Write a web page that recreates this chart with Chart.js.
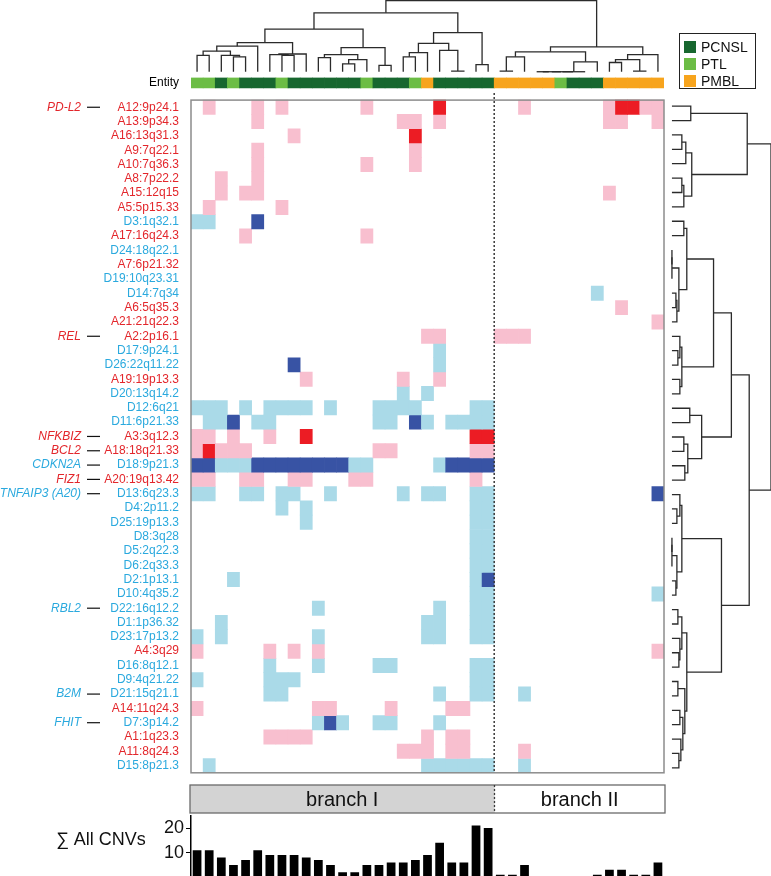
<!DOCTYPE html>
<html>
<meta charset="utf-8">
<style>
	html, body { margin: 0; padding: 0; width: 100%; height: 100%; overflow: hidden; background: #fff; }
	.pane { position: absolute; }
	#legend {
		position: absolute; left: 679px; top: 33px; width: 75px; height: 54px;
		border: 1.5px solid #222; font: 14px 'Liberation Sans', Arial, sans-serif; color: #111;
	}
	#legend div { position: absolute; left: 4px; height: 14px; line-height: 14px; }
	#legend span { display: inline-block; width: 12px; height: 12px; margin-right: 5px; vertical-align: -1px; }
</style>
<script src="https://cdn.jsdelivr.net/npm/chart.js"></script>
<body>
	<div class="pane" style="left:191px;top:0;width:473px;height:76px"><canvas id="topTree"></canvas></div>
	<div class="pane" style="left:0;top:66px;width:680px;height:718px"><canvas id="heat"></canvas></div>
	<div class="pane" style="left:666px;top:99px;width:105px;height:676px"><canvas id="rightTree"></canvas></div>
	<div class="pane" style="left:189px;top:784px;width:477px;height:30px"><canvas id="branch"></canvas></div>
	<div class="pane" style="left:0;top:803px;width:680px;height:87px"><canvas id="totals"></canvas></div>
	<div id="legend">
		<div style="top:6px"><span style="background:#17672f"></span>PCNSL</div>
		<div style="top:23px"><span style="background:#6cbd45"></span>PTL</div>
		<div style="top:40px"><span style="background:#f7a41d"></span>PMBL</div>
	</div>
<script>

	// CNV regions (rows of the heatmap, top to bottom)
	var cnvLabels = ['A12:9p24.1','A13:9p34.3','A16:13q31.3','A9:7q22.1','A10:7q36.3','A8:7p22.2','A15:12q15',
		'A5:5p15.33','D3:1q32.1','A17:16q24.3','D24:18q22.1','A7:6p21.32','D19:10q23.31','D14:7q34','A6:5q35.3',
		'A21:21q22.3','A2:2p16.1','D17:9p24.1','D26:22q11.22','A19:19p13.3','D20:13q14.2','D12:6q21','D11:6p21.33',
		'A3:3q12.3','A18:18q21.33','D18:9p21.3','A20:19q13.42','D13:6q23.3','D4:2p11.2','D25:19p13.3','D8:3q28',
		'D5:2q22.3','D6:2q33.3','D2:1p13.1','D10:4q35.2','D22:16q12.2','D1:1p36.32','D23:17p13.2','A4:3q29',
		'D16:8q12.1','D9:4q21.22','D21:15q21.1','A14:11q24.3','D7:3p14.2','A1:1q23.3','A11:8q24.3','D15:8p21.3'];

	// genes named next to some rows
	var geneNames = ['PD-L2','REL','NFKBIZ','BCL2','CDKN2A','FIZ1','TNFAIP3 (A20)','RBL2','B2M','FHIT'];
	var geneRows = [0, 16, 23, 24, 25, 26, 27, 35, 41, 43];

	// entity of each sample column: T = PTL, C = PCNSL, M = PMBL
	var entity = 'TTCTC CCTCC CCCCT CCCTM CCCCC MMMMM TCCCM MMMM';

	// one string per row, one char per sample: + gain, # amplification, - loss, = homozygous deletion
	var cnvMatrix = [
		'.+... +.+.. ....+ ..... #.... ..+.. ....+ ##++',
		'..... +.... ..... ..++. +.... ..... ....+ +..+',
		'..... ...+. ..... ...#. ..... ..... ..... ....',
		'..... +.... ..... ...+. ..... ..... ..... ....',
		'..... +.... ....+ ...+. ..... ..... ..... ....',
		'..+.. +.... ..... ..... ..... ..... ..... ....',
		'..+.+ +.... ..... ..... ..... ..... ....+ ....',
		'.+... ..+.. ..... ..... ..... ..... ..... ....',
		'--... =.... ..... ..... ..... ..... ..... ....',
		'....+ ..... ....+ ..... ..... ..... ..... ....',
		'..... ..... ..... ..... ..... ..... ..... ....',
		'..... ..... ..... ..... ..... ..... ..... ....',
		'..... ..... ..... ..... ..... ..... ..... ....',
		'..... ..... ..... ..... ..... ..... ...-. ....',
		'..... ..... ..... ..... ..... ..... ..... +...',
		'..... ..... ..... ..... ..... ..... ..... ...+',
		'..... ..... ..... ....+ +.... +++.. ..... ....',
		'..... ..... ..... ..... -.... ..... ..... ....',
		'..... ...=. ..... ..... -.... ..... ..... ....',
		'..... ....+ ..... ..+.. +.... ..... ..... ....',
		'..... ..... ..... ..-.- ..... ..... ..... ....',
		'---.- .---- .-... ----. ...-- ..... ..... ....',
		'.--=. --... ..... --.=- .---- ..... ..... ....',
		'++.+. .+..# ..... ..... ...## ..... ..... ....',
		'+#+++ ..... ..... ++... ...++ ..... ..... ....',
		'==--- ===== ===-- ..... -==== ..... ..... ....',
		'++..+ +..++ ...++ ..... ...+. ..... ..... ....',
		'--..- -.--. .-... ..-.- -..-- ..... ..... ...=',
		'..... ..-.- ..... ..... ...-- ..... ..... ....',
		'..... ....- ..... ..... ...-- ..... ..... ....',
		'..... ..... ..... ..... ...-- ..... ..... ....',
		'..... ..... ..... ..... ...-- ..... ..... ....',
		'..... ..... ..... ..... ...-- ..... ..... ....',
		'...-. ..... ..... ..... ...-= ..... ..... ....',
		'..... ..... ..... ..... ...-- ..... ..... ...-',
		'..... ..... -.... ..... -..-- ..... ..... ....',
		'..-.. ..... ..... ....- -..-- ..... ..... ....',
		'-.-.. ..... -.... ....- -..-- ..... ..... ....',
		'+.... .+.+. +.... ..... ..... ..... ..... ...+',
		'..... .-... -.... --... ...-- ..... ..... ....',
		'-.... .---. ..... ..... ...-- ..... ..... ....',
		'..... .--.. ..... ..... -..-- ..-.. ..... ....',
		'+.... ..... ++... .+... .++.. ..... ..... ....',
		'..... ..... -=-.. --... -.... ..... ..... ....',
		'..... .++++ ..... ....+ .++.. ..... ..... ....',
		'..... ..... ..... ..+++ .++.. ..+.. ..... ....',
		'.-... ..... ..... ....- ----- ..-.. ..... ....'
	];

	// sum of all CNVs per sample (bottom bars)
	var cnvTotals = [11,11,8,5,7,11,9,9,9,8,7,5,2,2,5,5,6,6,7,9,14,6,6,21,20,1,1,5,0,0,0,0,0,1,3,3,1,1,6];

	// sample clustering: [left, right, height], leaves are column indices
	var sampleTree = [
		[
			[
				[[[[0,1,0.23],[2,[3,4,0.21],0.23],0.29],5,0.36],[[6,[7,8,0.23],0.24],9,0.25],0.41],
				[[[10,11,0.2],[[12,13,0.11],14,0.17],0.24],[15,16,0.09],0.34],
				0.6
			],
			[[[[17,18,0.21],19,0.27],[20,[21,22,0.01],0.3],0.4],[23,24,0.1],0.55],
			0.83
		],
		[
			[[[25,26,0.01],27,0.21],[[[[[28,29,0],30,0],31,0],32,0],33,0.14],0.28],
			[[[34,35,0.13],[36,37,0.01],0.17],38,0.24],
			0.35
		],
		1.0
	];

	// region clustering: [top, bottom, height], leaves are row indices
	var regionTree = [
		[[0,1,0.19],[[[2,3,0.1],4,0.14],[[5,6,0.1],7,0.12],0.2],0.76],
		[
			[
				[[[8,9,0.12],[[[10,11,0],12,0],[[13,14,0.04],15,0.05],0.07],0.15],[[16,[17,18,0.06],0.08],[19,20,0.08],0.1],0.42],
				[[21,22,0.18],[[23,24,0.12],[25,26,0.13],0.16],0.3],
				0.6
			],
			[
				[[27,[28,29,0.05],0.08],[[[30,31,0],32,0],[33,34,0.04],0.05],0.1],
				[[[35,36,0.06],[37,[38,39,0.07],0.08],0.1],[[40,41,0.06],[[42,43,0.08],[44,[45,46,0.07],0.09],0.11],0.13],0.15],
				0.5
			],
			0.78
		],
		1.0
	];

	var FONT = "'Liberation Sans', Arial, sans-serif";
	var RED = '#e3262b', BLUE = '#2aa9de';
	var cellColor = { '+': '#f8bfcf', '#': '#ec1c24', '-': '#aadae8', '=': '#3853a4' };
	var entityColor = { C: '#17672f', T: '#6cbd45', M: '#f7a41d' };
	var LINE = '#2b2b2b';

	Chart.defaults.font.family = FONT;
	Chart.defaults.animation = false;
	Chart.defaults.plugins.legend.display = false;
	Chart.defaults.plugins.tooltip.enabled = false;

	var entityCodes = entity.replace(/ /g, '').split('');
	var columns = entityCodes.map(function (_, i) { return 'S' + (i + 1); });

	// turn a nested tree into U-shaped polylines
	function walk(node, out) {
		if (typeof node === 'number') return { p: node + 0.5, h: 0 };
		var a = walk(node[0], out), b = walk(node[1], out), h = node[2];
		out.push([[a.p, a.h], [a.p, h], [b.p, h], [b.p, b.h]]);
		return { p: (a.p + b.p) / 2, h: h };
	}

	function treeDatasets(tree, horizontal) {
		var segs = [];
		walk(tree, segs);
		return segs.map(function (s) {
			return {
				data: s.map(function (pt) { return horizontal ? { x: pt[1], y: pt[0] } : { x: pt[0], y: pt[1] }; }),
				showLine: true, pointRadius: 0, borderColor: LINE, borderWidth: 1.3, clip: false
			};
		});
	}

	// top dendrogram
	new Chart(document.getElementById('topTree'), {
		type: 'scatter',
		data: { datasets: treeDatasets(sampleTree, false) },
		options: {
			responsive: true, maintainAspectRatio: false,
			scales: {
				x: { type: 'linear', min: 0, max: cnvTotals.length, display: false },
				y: { type: 'linear', min: -0.06, max: 1.01, display: false }
			}
		}
	});

	// right dendrogram
	new Chart(document.getElementById('rightTree'), {
		type: 'scatter',
		data: { datasets: treeDatasets(regionTree, true) },
		options: {
			responsive: true, maintainAspectRatio: false,
			scales: {
				x: { type: 'linear', min: -0.06, max: 1.0, display: false },
				y: { type: 'linear', min: 0, max: cnvLabels.length, reverse: true, display: false }
			}
		}
	});

	// heatmap with entity strip on top
	var heatSets = [{
		data: entityCodes.map(function () { return [-1.55, -0.85]; }),
		backgroundColor: entityCodes.map(function (e) { return entityColor[e]; })
	}];
	cnvMatrix.forEach(function (row, r) {
		var cells = row.replace(/ /g, '').split('');
		heatSets.push({
			data: cells.map(function (ch) { return ch === '.' ? null : [r, r + 1]; }),
			backgroundColor: cells.map(function (ch) { return cellColor[ch] || 'rgba(0,0,0,0)'; })
		});
	});
	heatSets.forEach(function (d) {
		d.barPercentage = 1; d.categoryPercentage = 1; d.grouped = false; d.borderWidth = 0;
	});

	function splitX(xs) {
		return (xs.getPixelForValue(24) + xs.getPixelForValue(25)) / 2;
	}

	new Chart(document.getElementById('heat'), {
		type: 'bar',
		data: { labels: columns, datasets: heatSets },
		options: {
			responsive: true, maintainAspectRatio: false,
			layout: { padding: { top: 10, bottom: 10, left: 0, right: 16 } },
			scales: {
				x: { type: 'category', display: false },
				y: {
					type: 'linear', reverse: true, min: -1.6, max: cnvLabels.length,
					afterBuildTicks: function (s) {
						s.ticks = [{ value: -1.2 }].concat(cnvLabels.map(function (_, i) { return { value: i + 0.5 }; }));
					},
					afterFit: function (s) { s.width = 191; },
					grid: { display: false },
					border: { display: false },
					ticks: {
						autoSkip: false, padding: 4, font: { size: 12 },
						callback: function (v, i) { return i === 0 ? 'Entity' : cnvLabels[i - 1]; },
						color: function (ctx) {
							if (ctx.index === 0) return '#000';
							return cnvLabels[ctx.index - 1].charAt(0) === 'A' ? RED : BLUE;
						}
					}
				}
			}
		},
		plugins: [{
			id: 'frame',
			afterDatasetsDraw: function (chart) {
				var ctx = chart.ctx, xs = chart.scales.x, ys = chart.scales.y, a = chart.chartArea;
				var top = ys.getPixelForValue(0), bottom = ys.getPixelForValue(cnvLabels.length);
				ctx.save();
				ctx.strokeStyle = '#8c8c8c';
				ctx.lineWidth = 1.5;
				ctx.strokeRect(a.left, top, a.right - a.left, bottom - top);
				var sx = splitX(xs);
				ctx.strokeStyle = '#3a3a3a';
				ctx.setLineDash([2, 2]);
				ctx.beginPath();
				ctx.moveTo(sx, ys.getPixelForValue(-0.5));
				ctx.lineTo(sx, bottom);
				ctx.stroke();
				ctx.setLineDash([]);
				// gene names left of their regions
				ctx.font = 'italic 12px ' + FONT;
				ctx.textAlign = 'right';
				ctx.textBaseline = 'middle';
				geneRows.forEach(function (r, i) {
					var y = ys.getPixelForValue(r + 0.5);
					ctx.fillStyle = cnvLabels[r].charAt(0) === 'A' ? RED : BLUE;
					ctx.fillText(geneNames[i], 81, y);
					ctx.strokeStyle = '#111';
					ctx.lineWidth = 1.2;
					ctx.beginPath();
					ctx.moveTo(87, y);
					ctx.lineTo(100, y);
					ctx.stroke();
				});
				ctx.restore();
			}
		}]
	});

	// branch I / branch II strip
	new Chart(document.getElementById('branch'), {
		type: 'bar',
		data: {
			labels: ['branch'],
			datasets: [
				{ data: [[0, 25]], backgroundColor: '#d3d3d3' },
				{ data: [[25, cnvTotals.length]], backgroundColor: '#ffffff' }
			]
		},
		options: {
			indexAxis: 'y',
			responsive: true, maintainAspectRatio: false,
			layout: { padding: 1 },
			datasets: { bar: { barPercentage: 1, categoryPercentage: 1, grouped: false, borderWidth: 0 } },
			scales: {
				x: { type: 'linear', min: 0, max: cnvTotals.length, display: false },
				y: { type: 'category', display: false }
			}
		},
		plugins: [{
			id: 'branchText',
			afterDatasetsDraw: function (chart) {
				var ctx = chart.ctx, xs = chart.scales.x, a = chart.chartArea;
				ctx.save();
				ctx.strokeStyle = '#6a6a6a';
				ctx.lineWidth = 1.3;
				ctx.strokeRect(a.left, a.top, a.right - a.left, a.bottom - a.top);
				ctx.setLineDash([2, 2]);
				ctx.strokeStyle = '#3a3a3a';
				ctx.beginPath();
				ctx.moveTo(xs.getPixelForValue(25), a.top);
				ctx.lineTo(xs.getPixelForValue(25), a.bottom);
				ctx.stroke();
				ctx.fillStyle = '#111';
				ctx.font = '20px ' + FONT;
				ctx.textAlign = 'center';
				ctx.textBaseline = 'middle';
				var mid = (a.top + a.bottom) / 2 + 1;
				ctx.fillText('branch I', xs.getPixelForValue(12.5), mid);
				ctx.fillText('branch II', xs.getPixelForValue(32), mid);
				ctx.restore();
			}
		}]
	});

	// bottom bars: sum of all CNVs
	new Chart(document.getElementById('totals'), {
		type: 'bar',
		data: {
			labels: columns,
			datasets: [{ data: cnvTotals, backgroundColor: '#000', barPercentage: 0.72, categoryPercentage: 1 }]
		},
		options: {
			responsive: true, maintainAspectRatio: false,
			layout: { padding: { top: 10, bottom: 1, left: 0, right: 16 } },
			scales: {
				x: { type: 'category', display: false },
				y: {
					min: 0, max: 25,
					afterBuildTicks: function (s) { s.ticks = [{ value: 0 }, { value: 10 }, { value: 20 }]; },
					afterFit: function (s) { s.width = 191; },
					grid: { drawOnChartArea: false, tickLength: 5, color: '#000' },
					border: { color: '#000', width: 1.5 },
					ticks: {
						color: '#111', font: { size: 18 }, padding: 2,
						callback: function (v) { return v === 0 ? null : String(v); }
					}
				}
			}
		},
		plugins: [{
			id: 'sumTitle',
			afterDraw: function (chart) {
				var ctx = chart.ctx, a = chart.chartArea;
				ctx.save();
				ctx.strokeStyle = '#000';
				ctx.lineWidth = 1.5;
				ctx.beginPath();
				ctx.moveTo(a.left, a.bottom);
				ctx.lineTo(a.right, a.bottom);
				ctx.stroke();
				ctx.fillStyle = '#111';
				ctx.font = '18px ' + FONT;
				ctx.textAlign = 'left';
				ctx.textBaseline = 'middle';
				ctx.fillText('\u2211 All CNVs', 56, 37);
				ctx.restore();
			}
		}]
	});

</script>
</body>
</html>
